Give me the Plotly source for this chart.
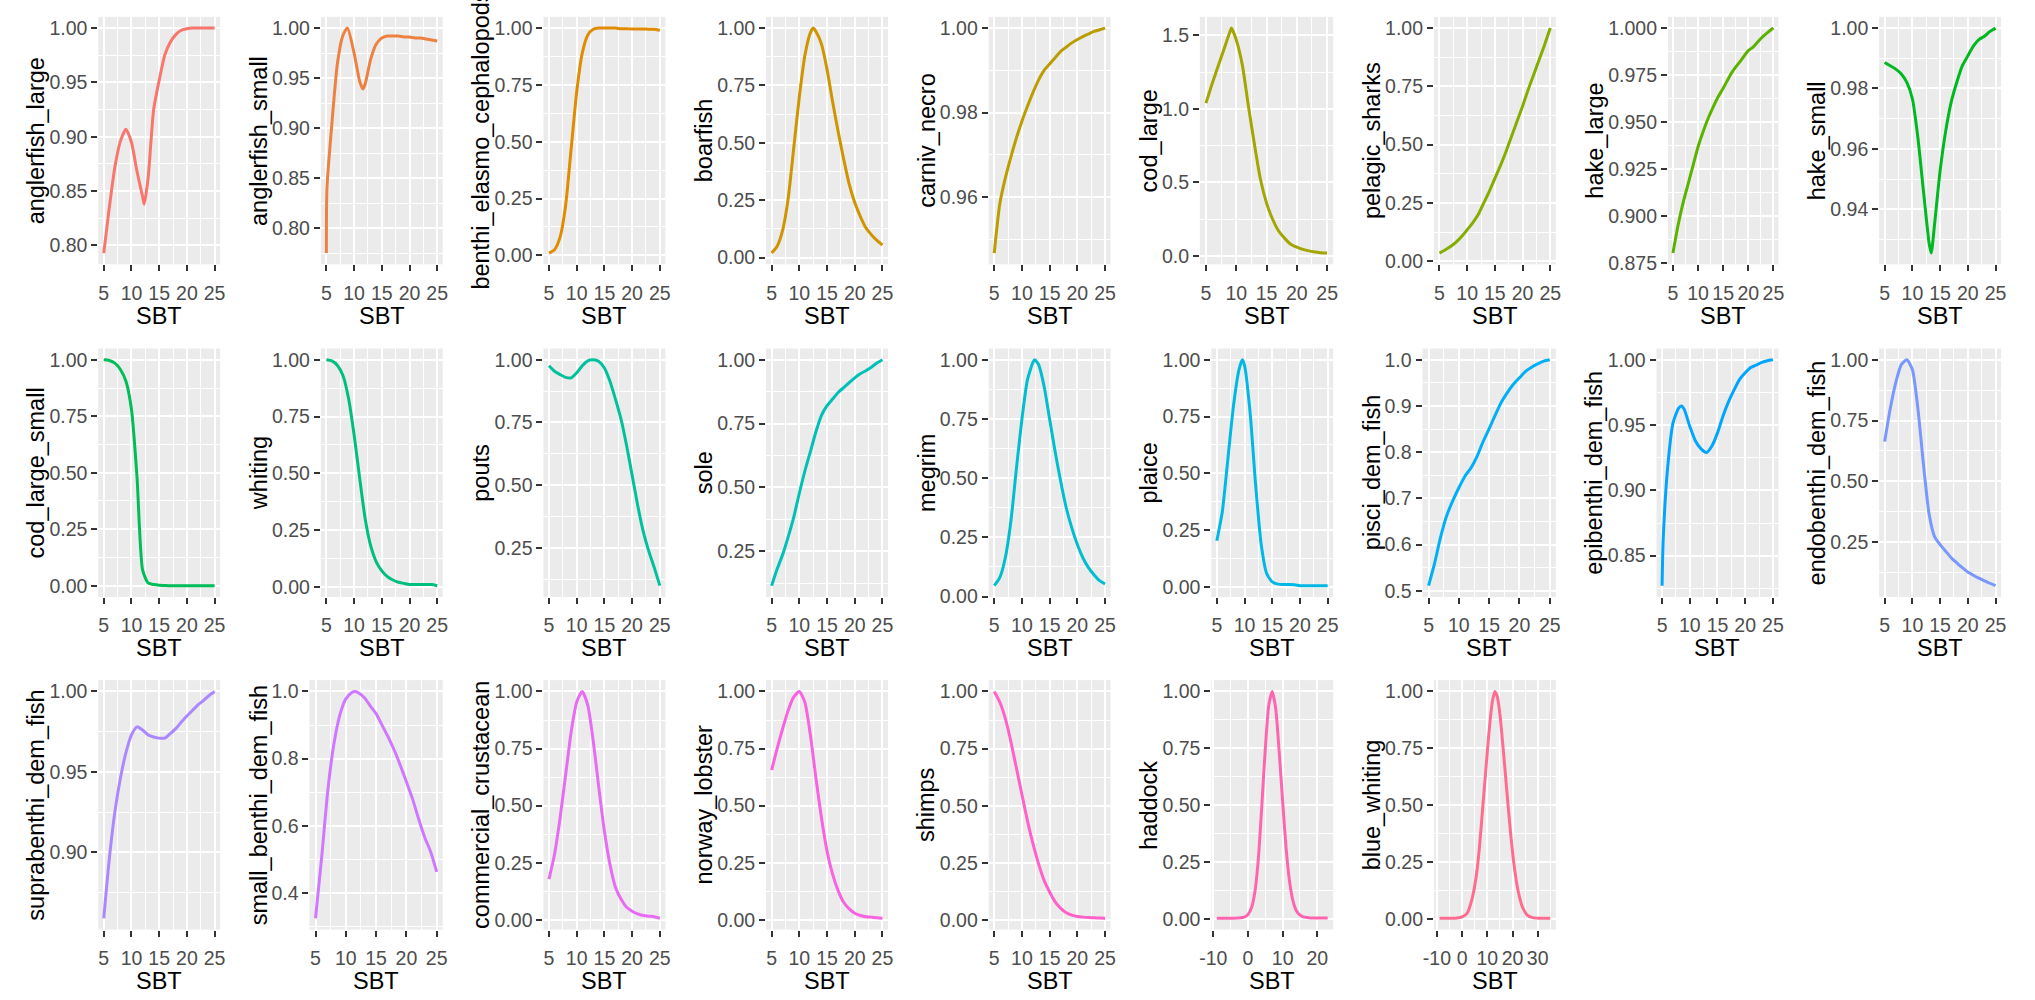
import math
import plotly.graph_objects as go

W, H = 2035, 1000

# ---------------- data ----------------
SBT = list(range(5, 26))
SBT_ANGLERFISH_LARGE = [5, 6, 7, 8, 9, 10, 11, 12, 12.3, 13, 14, 15, 16, 17, 18, 19, 20, 21, 22, 23, 24, 25]
SBT_ANGLERFISH_SMALL = [5, 5.1, 6, 7, 8, 8.8, 10, 11, 11.6, 12, 13, 14, 15, 16, 17, 18, 19, 20, 21, 22, 23, 24, 25]
SBT_BOARFISH = [5, 6, 7, 8, 9, 10, 11, 12, 12.5, 13, 14, 15, 16, 17, 18, 19, 20, 21, 22, 23, 24, 25]
SBT_COD_LARGE = [5, 6, 7, 8, 9, 9.2, 10, 11, 12, 13, 14, 15, 16, 17, 18, 19, 20, 21, 22, 23, 24, 25]
SBT_HAKE_SMALL = [5, 6, 7, 8, 9, 10, 11, 12, 13, 13.4, 14, 15, 16, 17, 18, 19, 20, 21, 22, 23, 24, 25]
SBT_MEGRIM = [5, 6, 7, 8, 9, 10, 11, 12, 12.3, 13, 14, 15, 16, 17, 18, 19, 20, 21, 22, 23, 24, 25]
SBT_PLAICE = [5, 6, 7, 8, 9, 9.6, 10, 11, 12, 13, 14, 15, 16, 17, 18, 19, 20, 21, 22, 23, 24, 25]
SBT_EPIBENTHI = [5, 5.2, 6, 7, 8, 8.5, 9, 10, 11, 12, 13, 14, 15, 16, 17, 18, 19, 20, 21, 22, 23, 24, 25]
SBT_SMALL_BENTHI = [5, 6, 7, 8, 9, 10, 11, 11.5, 12, 13, 14, 15, 16, 17, 18, 19, 20, 21, 22, 23, 24, 25]
SBT_HADDOCK = list(range(-9, 24))
SBT_BLUE_WHITING = [-9, -6, -3, 0, 2, 4, 5, 6, 7, 8, 9, 10, 11, 12, 13, 14, 15,
                    16, 17, 18, 19, 20, 21, 22, 23, 24, 26, 28, 31, 35]

X_TICKS = ["5", "10", "15", "20", "25"]
X_TICKS_HADDOCK = ["-10", "0", "10", "20"]
X_TICKS_BLUE_WHITING = ["-10", "0", "10", "20", "30"]

Y_TICKS_UNIT = ["0.00", "0.25", "0.50", "0.75", "1.00"]
Y_TICKS_UPPER = ["0.25", "0.50", "0.75", "1.00"]
Y_TICKS_ANGLER = ["0.80", "0.85", "0.90", "0.95", "1.00"]
Y_TICKS_CARNIV = ["0.96", "0.98", "1.00"]
Y_TICKS_COD_LARGE = ["0.0", "0.5", "1.0", "1.5"]
Y_TICKS_HAKE_LARGE = ["0.875", "0.900", "0.925", "0.950", "0.975", "1.000"]
Y_TICKS_HAKE_SMALL = ["0.94", "0.96", "0.98", "1.00"]
Y_TICKS_PISCI = ["0.5", "0.6", "0.7", "0.8", "0.9", "1.0"]
Y_TICKS_EPIBENTHI = ["0.85", "0.90", "0.95", "1.00"]
Y_TICKS_SUPRA = ["0.90", "0.95", "1.00"]
Y_TICKS_SMALL_BENTHI = ["0.4", "0.6", "0.8", "1.0"]

anglerfish_large = [0.793, 0.835, 0.872, 0.896, 0.907, 0.895, 0.868, 0.845, 0.838, 0.862, 0.925,
                    0.952, 0.975, 0.987, 0.994, 0.998, 0.9993, 1.0, 1.0, 1.0, 1.0, 1.0]
anglerfish_small = [0.775, 0.84, 0.905, 0.965, 0.993, 1.0, 0.975, 0.947, 0.939, 0.944, 0.969,
                    0.984, 0.990, 0.992, 0.992, 0.992, 0.991, 0.991, 0.990, 0.990, 0.989, 0.988, 0.987]
benthi_elasmo_cephalopods = [0.01, 0.025, 0.08, 0.22, 0.47, 0.72, 0.89, 0.97, 0.995, 1.0, 1.0,
                             1.0, 1.0, 0.997, 0.997, 0.996, 0.996, 0.996, 0.995, 0.995, 0.99]
boarfish = [0.02, 0.05, 0.12, 0.26, 0.48, 0.70, 0.88, 0.98, 1.0, 0.985, 0.93, 0.82, 0.68, 0.55,
            0.43, 0.32, 0.24, 0.18, 0.13, 0.10, 0.075, 0.055]
carniv_necro = [0.9468, 0.9584, 0.9645, 0.9695, 0.974, 0.978, 0.9815, 0.9848, 0.9877, 0.990,
                0.9915, 0.993, 0.9945, 0.9955, 0.9965, 0.9973, 0.998, 0.9986, 0.9992, 0.9996, 1.0]
cod_large = [1.04, 1.17, 1.29, 1.41, 1.53, 1.55, 1.47, 1.30, 1.02, 0.76, 0.52, 0.36, 0.25, 0.17,
             0.12, 0.08, 0.06, 0.045, 0.035, 0.028, 0.022, 0.02]
pelagic_sharks = [0.035, 0.048, 0.063, 0.082, 0.106, 0.135, 0.165, 0.2, 0.25, 0.3, 0.355, 0.41,
                  0.47, 0.535, 0.6, 0.665, 0.735, 0.8, 0.865, 0.93, 1.0]
hake_large = [0.8805, 0.895, 0.907, 0.917, 0.927, 0.937, 0.945, 0.952, 0.958, 0.9635, 0.968,
              0.973, 0.9775, 0.981, 0.9845, 0.988, 0.990, 0.993, 0.9957, 0.998, 1.0]
hake_small = [0.9886, 0.9875, 0.9864, 0.9848, 0.982, 0.9766, 0.9636, 0.946, 0.929, 0.9255, 0.935,
              0.9527, 0.9658, 0.9755, 0.982, 0.9875, 0.9908, 0.994, 0.9962, 0.9973, 0.9989, 1.0]
cod_large_small = [1.0, 0.997, 0.985, 0.957, 0.905, 0.78, 0.48, 0.07, 0.012, 0.005, 0.002,
                   0.001, 0.0, 0.0, 0.0, 0.0, 0.0, 0.0, 0.0, 0.0, 0.0]
whiting = [1.0, 0.995, 0.975, 0.93, 0.83, 0.67, 0.48, 0.30, 0.18, 0.11, 0.07, 0.045, 0.03, 0.02,
           0.015, 0.01, 0.01, 0.01, 0.01, 0.01, 0.005]
pouts = [0.976, 0.954, 0.941, 0.93, 0.928, 0.948, 0.976, 0.996, 1.0, 0.993, 0.967, 0.914, 0.842,
         0.763, 0.658, 0.54, 0.42, 0.316, 0.237, 0.171, 0.099]
sole = [0.115, 0.18, 0.237, 0.307, 0.384, 0.477, 0.564, 0.64, 0.718, 0.782, 0.82, 0.846, 0.872,
        0.891, 0.91, 0.929, 0.945, 0.957, 0.971, 0.987, 1.0]
megrim = [0.046, 0.08, 0.164, 0.317, 0.54, 0.75, 0.916, 0.99, 1.0, 0.98, 0.888, 0.749, 0.61,
          0.486, 0.374, 0.29, 0.22, 0.164, 0.122, 0.092, 0.067, 0.053]
plaice = [0.203, 0.333, 0.565, 0.797, 0.957, 1.0, 0.975, 0.768, 0.449, 0.188, 0.058, 0.022,
          0.012, 0.01, 0.01, 0.009, 0.005, 0.005, 0.005, 0.005, 0.005, 0.005]
pisci_dem_fish = [0.511, 0.56, 0.617, 0.663, 0.695, 0.723, 0.748, 0.766, 0.791, 0.823, 0.851,
                  0.88, 0.908, 0.929, 0.947, 0.961, 0.975, 0.984, 0.991, 0.997, 1.0]
epibenthi_dem_fish = [0.827, 0.862, 0.917, 0.952, 0.963, 0.9646, 0.962, 0.949, 0.938, 0.932,
                      0.929, 0.934, 0.944, 0.957, 0.968, 0.977, 0.985, 0.99, 0.994, 0.996,
                      0.998, 0.9993, 1.0]
endobenthi_dem_fish = [0.663, 0.798, 0.906, 0.98, 1.0, 0.96, 0.798, 0.569, 0.367, 0.272, 0.239,
                       0.212, 0.185, 0.164, 0.144, 0.126, 0.113, 0.101, 0.09, 0.08, 0.07]
suprabenthi_dem_fish = [0.859, 0.896, 0.925, 0.946, 0.962, 0.973, 0.978, 0.976, 0.973, 0.9717,
                        0.971, 0.971, 0.9738, 0.9769, 0.981, 0.9847, 0.9882, 0.9917, 0.9944,
                        0.9975, 1.0]
small_benthi_dem_fish = [0.325, 0.503, 0.70, 0.84, 0.929, 0.978, 0.997, 1.0, 0.997, 0.983, 0.958,
                         0.934, 0.899, 0.864, 0.825, 0.78, 0.731, 0.681, 0.622, 0.567, 0.523, 0.463]
commercial_crustacean = [0.178, 0.287, 0.446, 0.635, 0.823, 0.954, 1.0, 0.939, 0.78, 0.577, 0.388,
                         0.243, 0.142, 0.091, 0.055, 0.038, 0.026, 0.019, 0.016, 0.014, 0.007]
norway_lobster = [0.656, 0.751, 0.838, 0.918, 0.976, 1.0, 0.953, 0.809, 0.62, 0.446, 0.301, 0.2,
                  0.128, 0.077, 0.048, 0.029, 0.019, 0.014, 0.012, 0.009, 0.007]
shimps = [1.0, 0.954, 0.882, 0.781, 0.665, 0.549, 0.434, 0.333, 0.246, 0.174, 0.123, 0.08, 0.051,
          0.032, 0.022, 0.016, 0.013, 0.011, 0.01, 0.009, 0.008]
haddock = [0.002, 0.002, 0.002, 0.002, 0.002, 0.002, 0.003, 0.004, 0.008, 0.019, 0.048, 0.12,
           0.266, 0.5, 0.75, 0.94, 1.0, 0.924, 0.735, 0.516, 0.31, 0.164, 0.077, 0.034, 0.016,
           0.008, 0.005, 0.003, 0.003, 0.003, 0.003, 0.003, 0.003]
blue_whiting = [0.002, 0.002, 0.002, 0.008, 0.025, 0.09, 0.145, 0.22, 0.33, 0.465, 0.6, 0.735,
                0.86, 0.955, 1.0, 0.975, 0.9, 0.785, 0.66, 0.53, 0.405, 0.295, 0.205, 0.135,
                0.085, 0.05, 0.015, 0.005, 0.002, 0.002]

PANELS = [
    ("anglerfish_large", SBT_ANGLERFISH_LARGE, anglerfish_large, X_TICKS, Y_TICKS_ANGLER),
    ("anglerfish_small", SBT_ANGLERFISH_SMALL, anglerfish_small, X_TICKS, Y_TICKS_ANGLER),
    ("benthi_elasmo_cephalopods", SBT, benthi_elasmo_cephalopods, X_TICKS, Y_TICKS_UNIT),
    ("boarfish", SBT_BOARFISH, boarfish, X_TICKS, Y_TICKS_UNIT),
    ("carniv_necro", SBT, carniv_necro, X_TICKS, Y_TICKS_CARNIV),
    ("cod_large", SBT_COD_LARGE, cod_large, X_TICKS, Y_TICKS_COD_LARGE),
    ("pelagic_sharks", SBT, pelagic_sharks, X_TICKS, Y_TICKS_UNIT),
    ("hake_large", SBT, hake_large, X_TICKS, Y_TICKS_HAKE_LARGE),
    ("hake_small", SBT_HAKE_SMALL, hake_small, X_TICKS, Y_TICKS_HAKE_SMALL),
    ("cod_large_small", SBT, cod_large_small, X_TICKS, Y_TICKS_UNIT),
    ("whiting", SBT, whiting, X_TICKS, Y_TICKS_UNIT),
    ("pouts", SBT, pouts, X_TICKS, Y_TICKS_UPPER),
    ("sole", SBT, sole, X_TICKS, Y_TICKS_UPPER),
    ("megrim", SBT_MEGRIM, megrim, X_TICKS, Y_TICKS_UNIT),
    ("plaice", SBT_PLAICE, plaice, X_TICKS, Y_TICKS_UNIT),
    ("pisci_dem_fish", SBT, pisci_dem_fish, X_TICKS, Y_TICKS_PISCI),
    ("epibenthi_dem_fish", SBT_EPIBENTHI, epibenthi_dem_fish, X_TICKS, Y_TICKS_EPIBENTHI),
    ("endobenthi_dem_fish", SBT, endobenthi_dem_fish, X_TICKS, Y_TICKS_UPPER),
    ("suprabenthi_dem_fish", SBT, suprabenthi_dem_fish, X_TICKS, Y_TICKS_SUPRA),
    ("small_benthi_dem_fish", SBT_SMALL_BENTHI, small_benthi_dem_fish, X_TICKS, Y_TICKS_SMALL_BENTHI),
    ("commercial_crustacean", SBT, commercial_crustacean, X_TICKS, Y_TICKS_UNIT),
    ("norway_lobster", SBT, norway_lobster, X_TICKS, Y_TICKS_UNIT),
    ("shimps", SBT, shimps, X_TICKS, Y_TICKS_UNIT),
    ("haddock", SBT_HADDOCK, haddock, X_TICKS_HADDOCK, Y_TICKS_UNIT),
    ("blue_whiting", SBT_BLUE_WHITING, blue_whiting, X_TICKS_BLUE_WHITING, Y_TICKS_UNIT),
]


# ---------------- styling helpers ----------------
def hcl_hex(h, c=100.0, l=65.0):
    """R's hcl() colour (polar CIE-Luv) converted to sRGB hex."""
    hr = math.radians(h)
    U = c * math.cos(hr)
    V = c * math.sin(hr)
    WY, Wu, Wv = 100.0, 0.1978398, 0.4683363
    Y = WY * (((l + 16) / 116) ** 3 if l > 7.999592 else l / 903.3)
    u = U / (13 * l) + Wu
    v = V / (13 * l) + Wv
    X = 9.0 * Y * u / (4 * v)
    Z = -X / 3 - 5 * Y + 3 * Y / v

    def g(t):
        t = 1.055 * t ** (1 / 2.4) - 0.055 if t > 0.00304 else 12.92 * t
        return max(0, min(255, round(255 * max(0.0, min(1.0, t)))))

    r = g((3.240479 * X - 1.537150 * Y - 0.498535 * Z) / WY)
    gg = g((-0.969256 * X + 1.875992 * Y + 0.041556 * Z) / WY)
    b = g((0.055648 * X - 0.204043 * Y + 1.057311 * Z) / WY)
    return "#%02X%02X%02X" % (r, gg, b)


n = len(PANELS)
COLORS = [hcl_hex(15 + 360 * i / n) for i in range(n)]

FONT = "Liberation Sans, Arial, sans-serif"
TICK_FONT = dict(family=FONT, size=19.5, color="#4D4D4D")
TITLE_FONT = dict(family=FONT, size=23.5, color="black")

NCOL = 9
PITCH = 224.6
ROW_TOP = [17, 352, 687]
ROW_BOTTOM = [267, 603, 939]


def padded(vals):
    lo, hi = min(vals), max(vals)
    s = hi - lo
    return [lo - 0.05 * s, hi + 0.05 * s]


def minors(tv):
    step = tv[1] - tv[0]
    return [tv[0] - step / 2] + [t + step / 2 for t in tv]


fig = go.Figure()
annotations = []
layout_axes = {}

for i, (name, xs, ys, xt, yt) in enumerate(PANELS):
    idx = i + 1
    row, col = divmod(i, NCOL)
    cell_left = PITCH * col
    right = 210 + PITCH * col
    digits = max(sum(ch.isdigit() for ch in s) for s in yt)
    left = cell_left + 87 + 11.5 * (digits - 3)
    top, bottom = ROW_TOP[row], ROW_BOTTOM[row]

    xv = [float(s) for s in xt]
    yv = [float(s) for s in yt]

    fig.add_trace(go.Scatter(
        x=xs, y=ys, mode="lines",
        line=dict(color=COLORS[i], width=3, shape="spline", smoothing=0.6),
        xaxis="x%d" % idx, yaxis="y%d" % idx, showlegend=False, hoverinfo="skip",
    ))

    common = dict(
        showline=False, zeroline=False, showgrid=True, gridcolor="white", gridwidth=2.2,
        ticks="outside", ticklen=6, tickwidth=2, tickcolor="#333333",
        tickfont=TICK_FONT, tickmode="array", fixedrange=True,
    )
    layout_axes["xaxis%d" % idx] = dict(
        common, domain=[left / W, right / W], anchor="y%d" % idx,
        range=padded(xs), tickvals=xv, ticktext=xt, ticklabelstandoff=5,
        minor=dict(tickmode="array", tickvals=minors(xv), showgrid=True,
                   gridcolor="white", gridwidth=1.1, ticks=""),
    )
    layout_axes["yaxis%d" % idx] = dict(
        common, domain=[1 - bottom / H, 1 - top / H], anchor="x%d" % idx,
        range=padded(ys), tickvals=yv, ticktext=yt,
        minor=dict(tickmode="array", tickvals=minors(yv), showgrid=True,
                   gridcolor="white", gridwidth=1.1, ticks=""),
    )

    # axis titles
    annotations.append(dict(
        text="SBT", xref="paper", yref="paper",
        x=(left + right) / 2 / W, y=1 - (bottom + 52) / H,
        xanchor="center", yanchor="middle", showarrow=False, font=TITLE_FONT,
    ))
    annotations.append(dict(
        text=name, xref="paper", yref="paper", textangle=-90,
        x=(cell_left + 24) / W, y=1 - (top + bottom) / 2 / H,
        xanchor="center", yanchor="middle", showarrow=False, font=TITLE_FONT,
    ))

fig.update_layout(
    width=W, height=H, autosize=False,
    margin=dict(l=0, r=0, t=0, b=0, pad=0),
    paper_bgcolor="white", plot_bgcolor="#EBEBEB",
    font=dict(family=FONT),
    annotations=annotations,
    **layout_axes,
)

fig.write_html("out.html", config={"displayModeBar": False},
               post_script="document.body.style.margin='0px';")
